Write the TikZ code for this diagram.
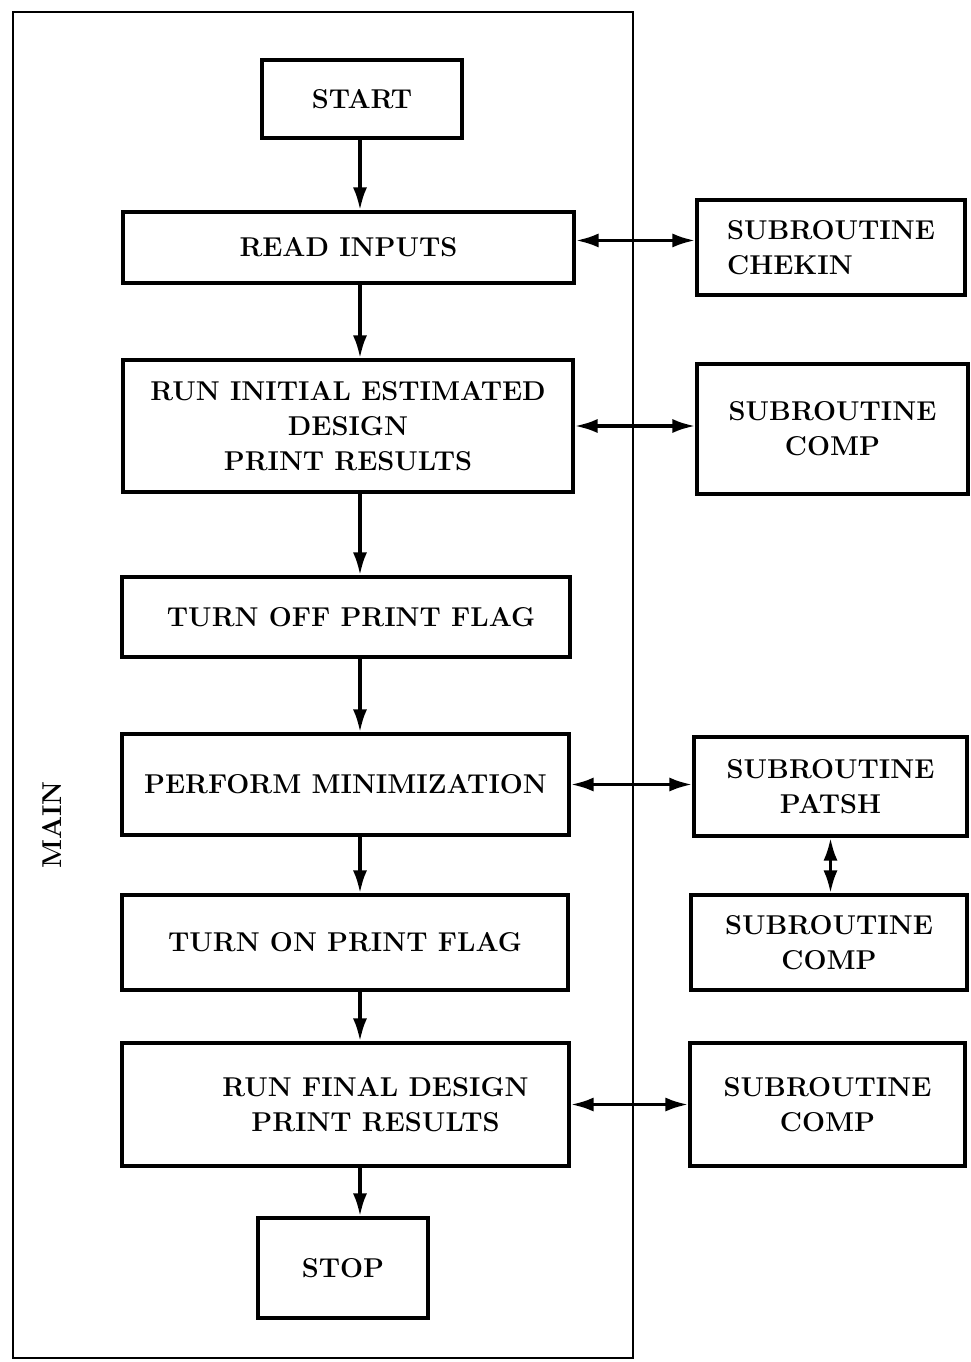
\documentclass[tikz,border=0pt]{standalone}
\usepackage{tikz}
\usetikzlibrary{arrows.meta,positioning,calc}

\tikzset{
	flowbox/.style={draw, line width=2pt, align=center, inner sep=2pt,
		font=\fontsize{15.5}{20}\selectfont\bfseries},
	subbox/.style={flowbox, minimum height=1.9cm},
	flow/.style={line width=2pt, -{Latex[length=13pt,width=8pt]}},
	link/.style={line width=2pt, {Latex[length=13pt,width=8pt]}-{Latex[length=13pt,width=8pt]}},
}

\begin{document}
\begin{tikzpicture}[x=0.02cm,y=-0.02cm]
	\useasboundingbox (0,0) rectangle (970,1362);
	% main program frame
	\draw[line width=1.6pt] (13,12) rectangle (633,1358);
	\node[rotate=90, font=\fontsize{15.5}{20}\selectfont\bfseries] (mainlabel) at (52,825) {MAIN};
	\coordinate (spine) at (360,0);
	% main steps
	\node[flowbox, minimum width=4cm, minimum height=1.56cm] (start) at (362,99) {START};
	\node[flowbox, minimum width=9.02cm, minimum height=1.42cm] (read) at (348.5,247.5) {READ INPUTS};
	\node[flowbox, minimum width=9cm, minimum height=2.64cm] (runinit) at (348,426) {RUN INITIAL ESTIMATED\\DESIGN\\PRINT RESULTS};
	\node[flowbox, minimum width=8.96cm, minimum height=1.6cm] (flagoff) at (346,617) {\ TURN OFF PRINT FLAG};
	\node[flowbox, minimum width=8.94cm, minimum height=2.02cm] (minim) at (345.5,784.5) {PERFORM MINIMIZATION};
	\node[flowbox, minimum width=8.92cm, minimum height=1.9cm] (flagon) at (345,942.5) {TURN ON PRINT FLAG};
	\node[flowbox, minimum width=8.94cm, minimum height=2.46cm] (runfinal) at (345.5,1104.5) {\hspace{1.2cm}RUN FINAL DESIGN\\\hspace{1.2cm}PRINT RESULTS};
	\node[flowbox, minimum width=3.4cm, minimum height=2cm] (stop) at (343,1268) {STOP};
	% subroutines
	\node[subbox, minimum width=5.36cm, align=left] (chekin) at (831,247.5) {SUBROUTINE\\CHEKIN};
	\node[subbox, minimum width=5.42cm, minimum height=2.6cm] (compa) at (832.5,429) {SUBROUTINE\\COMP};
	\node[subbox, minimum width=5.46cm, minimum height=1.98cm] (patsh) at (830.5,786.5) {SUBROUTINE\\PATSH};
	\node[subbox, minimum width=5.52cm] (compb) at (829,942.5) {SUBROUTINE\\COMP};
	\node[subbox, minimum width=5.5cm, minimum height=2.46cm] (compc) at (827.5,1104.5) {SUBROUTINE\\COMP};
	% flow down the main program
	\draw[flow] (start.south -| spine) -- (read.north -| spine);
	\draw[flow] (read.south -| spine) -- (runinit.north -| spine);
	\draw[flow] (runinit.south -| spine) -- (flagoff.north -| spine);
	\draw[flow] (flagoff.south -| spine) -- (minim.north -| spine);
	\draw[flow] (minim.south -| spine) -- (flagon.north -| spine);
	\draw[flow] (flagon.south -| spine) -- (runfinal.north -| spine);
	\draw[flow] (runfinal.south -| spine) -- (stop.north -| spine);
	% calls to subroutines
	\draw[link] ([yshift=4pt]read.east) -- ([yshift=4pt]read.east -| chekin.west);
	\draw[link] (runinit.east) -- (runinit.east -| compa.west);
	\draw[link] (minim.east) -- (minim.east -| patsh.west);
	\draw[link] (runfinal.east) -- (runfinal.east -| compc.west);
	\draw[link] (patsh.south) -- (patsh.south |- compb.north);
\end{tikzpicture}
\end{document}
